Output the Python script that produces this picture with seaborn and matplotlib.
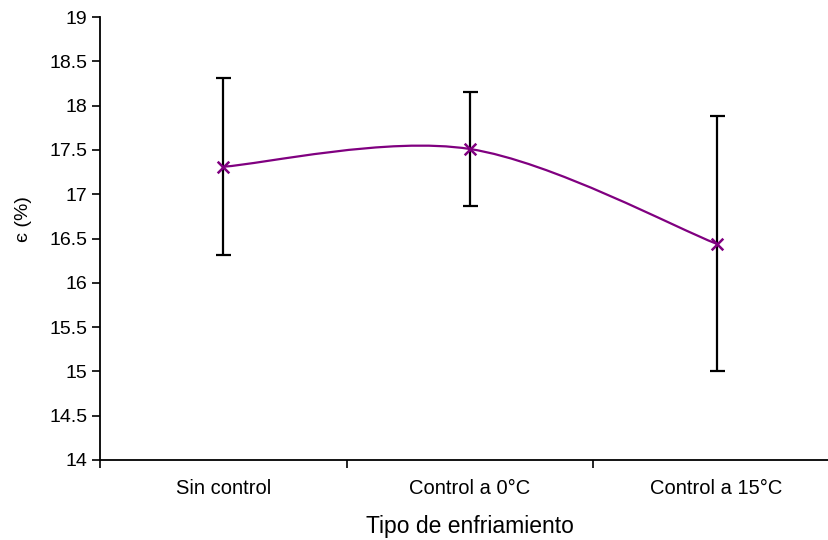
import numpy as np
import pandas as pd
import matplotlib.pyplot as plt
import seaborn as sns
from matplotlib.path import Path
from matplotlib.patches import PathPatch

# data
categories = ["Sin control", "Control a 0°C", "Control a 15°C"]
means = [17.31, 17.51, 16.44]
errors = [1.00, 0.64, 1.44]
y_ticks = [14, 14.5, 15, 15.5, 16, 16.5, 17, 17.5, 18, 18.5, 19]

df = pd.DataFrame({"tipo": categories, "eps": means, "err": errors})
df["x"] = np.arange(len(df))

sns.set_style("white")
plt.rcParams["font.family"] = ["Liberation Sans", "DejaVu Sans"]
plt.rcParams["text.color"] = "black"
plt.rcParams["xtick.color"] = "black"
plt.rcParams["ytick.color"] = "black"
plt.rcParams["axes.labelcolor"] = "black"

fig = plt.figure(figsize=(8.29, 5.40), dpi=100)
ax = fig.add_axes([100 / 829, 80 / 540, 740 / 829, 443 / 540])

purple = "#800080"

# smoothed line like Excel (Bezier through the points)
px = df["x"].to_numpy(dtype=float)
py = df["eps"].to_numpy(dtype=float)
pts = np.column_stack([px, py])
ext = np.vstack([pts[0], pts, pts[-1]])
verts = [tuple(pts[0])]
codes = [Path.MOVETO]
for i in range(len(pts) - 1):
    p0, p1, p2, p3 = ext[i], ext[i + 1], ext[i + 2], ext[i + 3]
    c1 = p1 + (p2 - p0) / 6
    c2 = p2 - (p3 - p1) / 6
    verts += [tuple(c1), tuple(c2), tuple(p2)]
    codes += [Path.CURVE4] * 3
ax.add_patch(PathPatch(Path(verts, codes), facecolor="none", edgecolor=purple, lw=1.6, zorder=2))

# error bars
ax.errorbar(df["x"], df["eps"], yerr=df["err"], fmt="none", ecolor="black",
            elinewidth=1.6, capsize=5.4, capthick=1.6, zorder=3)

# markers
sns.scatterplot(data=df, x="x", y="eps", marker="x", color=purple, s=70,
                linewidth=1.8, ax=ax, zorder=4)

ax.set_xlim(-0.5, 2.5)
ax.set_ylim(14, 19)
ax.set_yticks(y_ticks)
ax.set_yticklabels([f"{t:g}" for t in y_ticks], fontsize=14)
ax.set_xticks([0, 1, 2])
ax.set_xticklabels(categories, fontsize=14.5)
ax.set_xticks([-0.5, 0.5, 1.5, 2.5], minor=True)
ax.tick_params(axis="x", which="major", bottom=True, length=0, pad=14)
ax.tick_params(axis="x", which="minor", bottom=True, length=6, width=1.2,
               direction="out", color="black")
ax.tick_params(axis="y", left=True, length=6, width=1.2, direction="out",
               color="black", pad=3)

for s in ["top", "right"]:
    ax.spines[s].set_visible(False)
for s in ["left", "bottom"]:
    ax.spines[s].set_color("black")
    ax.spines[s].set_linewidth(1.3)

ax.set_xlabel("Tipo de enfriamiento", fontsize=16.5)
ax.xaxis.label.set_va("center")
ax.xaxis.set_label_coords(0.5, -0.151)
ax.set_ylabel("є (%)", fontsize=14)
ax.yaxis.label.set_va("center")
ax.yaxis.set_label_coords(-0.104, 0.545)

fig.savefig("out.png", dpi=100)
